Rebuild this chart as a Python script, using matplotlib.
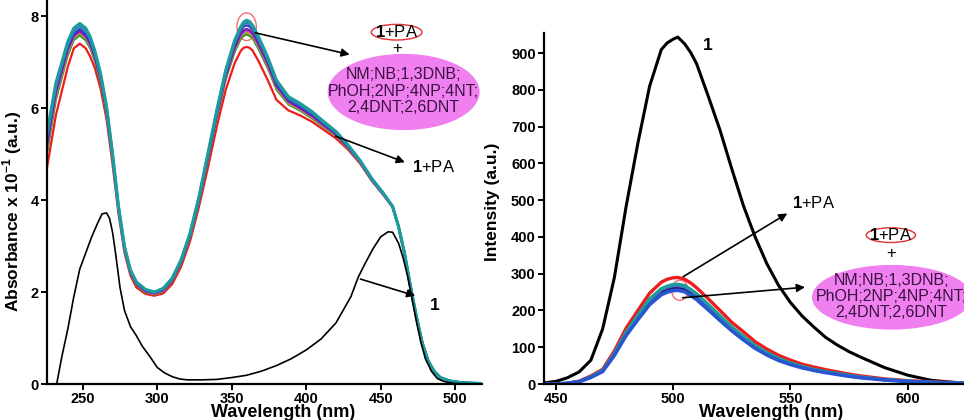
import matplotlib
matplotlib.use("Agg")
import matplotlib.pyplot as plt
from matplotlib.patches import Ellipse

plt.rcParams['font.family'] = ['Liberation Sans', 'DejaVu Sans']
plt.rcParams['mathtext.fontset'] = 'custom'
plt.rcParams['mathtext.rm'] = 'Liberation Sans'
plt.rcParams['mathtext.bf'] = 'Liberation Sans:bold'

## absorbance data (left)
wl_abs = [226, 232, 240, 244, 248, 252, 255, 258, 262, 266, 270, 274,
          278, 282, 286, 292, 298, 304, 310, 316, 322, 328,
          334, 340, 346, 352, 356, 358, 360, 362, 364, 368, 374, 380,
          388, 396, 404, 412, 420, 428, 436, 444, 452, 458,
          462, 466, 470, 474, 478, 482, 486, 490, 496, 504, 518]
tail = [3.42, 2.84, 2.12, 1.46, 0.88, 0.49, 0.27, 0.14, 0.07, 0.03, 0.01]

abs_red = [4.7, 5.85, 6.9, 7.3, 7.4, 7.3, 7.12, 6.88, 6.42, 5.75, 4.78, 3.7,
           2.86, 2.36, 2.1, 1.96, 1.92, 1.97, 2.17, 2.55, 3.1, 3.85,
           4.7, 5.6, 6.4, 6.98, 7.24, 7.31, 7.33, 7.31, 7.25, 7.02, 6.62, 6.18,
           5.95, 5.84, 5.7, 5.52, 5.34, 5.1, 4.8, 4.42, 4.1, 3.84] + tail
abs_green = [5.0, 6.18, 7.15, 7.48, 7.58, 7.47, 7.3, 7.03, 6.54, 5.85, 4.86, 3.76,
             2.91, 2.41, 2.15, 1.99, 1.95, 2.01, 2.23, 2.62, 3.17, 3.94,
             4.85, 5.78, 6.62, 7.22, 7.5, 7.57, 7.6, 7.57, 7.52, 7.28, 6.88, 6.4,
             6.08, 5.94, 5.77, 5.58, 5.4, 5.12, 4.82, 4.43, 4.11, 3.86] + tail
abs_olive = [5.1, 6.25, 7.2, 7.52, 7.62, 7.51, 7.34, 7.07, 6.57, 5.87, 4.88, 3.77,
             2.92, 2.42, 2.16, 2.0, 1.95, 2.02, 2.24, 2.63, 3.18, 3.95,
             4.87, 5.8, 6.65, 7.26, 7.54, 7.61, 7.64, 7.61, 7.56, 7.32, 6.92, 6.43,
             6.1, 5.96, 5.79, 5.6, 5.41, 5.13, 4.82, 4.43, 4.11, 3.86] + tail
abs_magenta = [5.15, 6.3, 7.25, 7.55, 7.65, 7.54, 7.37, 7.1, 6.6, 5.9, 4.9, 3.79,
               2.93, 2.43, 2.17, 2.01, 1.96, 2.03, 2.25, 2.64, 3.2, 3.97,
               4.89, 5.83, 6.68, 7.29, 7.57, 7.65, 7.68, 7.65, 7.6, 7.36, 6.95, 6.46,
               6.13, 5.98, 5.81, 5.61, 5.42, 5.14, 4.83, 4.44, 4.11, 3.86] + tail
abs_purple = [5.2, 6.35, 7.28, 7.58, 7.68, 7.57, 7.4, 7.12, 6.62, 5.92, 4.92, 3.8,
              2.94, 2.44, 2.18, 2.02, 1.97, 2.04, 2.26, 2.65, 3.21, 3.99,
              4.91, 5.85, 6.7, 7.32, 7.6, 7.69, 7.72, 7.69, 7.63, 7.39, 6.98, 6.49,
              6.15, 6.0, 5.83, 5.63, 5.43, 5.15, 4.84, 4.44, 4.12, 3.86] + tail
abs_blue = [5.3, 6.42, 7.33, 7.62, 7.72, 7.61, 7.44, 7.16, 6.66, 5.95, 4.95, 3.82,
            2.96, 2.45, 2.19, 2.03, 1.98, 2.05, 2.27, 2.67, 3.23, 4.01,
            4.94, 5.88, 6.74, 7.38, 7.66, 7.77, 7.8, 7.77, 7.7, 7.45, 7.03, 6.53,
            6.18, 6.03, 5.86, 5.65, 5.45, 5.17, 4.85, 4.45, 4.12, 3.86] + tail
abs_steel = [5.4, 6.5, 7.4, 7.69, 7.79, 7.68, 7.5, 7.22, 6.71, 6.0, 4.99, 3.85,
             2.98, 2.47, 2.21, 2.05, 1.99, 2.07, 2.29, 2.69, 3.26, 4.05,
             4.98, 5.93, 6.79, 7.44, 7.72, 7.83, 7.86, 7.83, 7.75, 7.5, 7.08, 6.58,
             6.22, 6.07, 5.9, 5.68, 5.48, 5.19, 4.86, 4.46, 4.13, 3.86] + tail
abs_teal = [5.45, 6.55, 7.45, 7.74, 7.84, 7.74, 7.55, 7.26, 6.75, 6.03, 5.01, 3.86,
            2.99, 2.48, 2.22, 2.06, 2.0, 2.08, 2.3, 2.7, 3.28, 4.07,
            5.01, 5.96, 6.83, 7.48, 7.77, 7.87, 7.91, 7.88, 7.8, 7.55, 7.12, 6.61,
            6.25, 6.1, 5.92, 5.7, 5.49, 5.2, 4.87, 4.47, 4.14, 3.86] + tail

wl_1 = [232.5, 236, 240, 244, 248, 252, 256, 260, 263, 266, 268, 270, 272, 275, 278,
        282, 286, 290, 295, 300, 305, 310, 315, 320, 330, 340, 350, 360, 370, 380,
        390, 400, 410, 420, 430, 435, 440, 445, 450, 455, 458, 462, 465, 468, 471,
        474, 477, 480, 484, 488, 492, 496, 500, 510, 518]
abs_1 = [0, 0.6, 1.2, 1.9, 2.5, 2.85, 3.2, 3.5, 3.7, 3.72, 3.6, 3.3, 2.85, 2.1, 1.6,
         1.25, 1.05, 0.82, 0.6, 0.36, 0.24, 0.16, 0.11, 0.09, 0.09, 0.1, 0.14, 0.19, 0.28, 0.4,
         0.55, 0.74, 0.98, 1.33, 1.9, 2.33, 2.65, 2.95, 3.2, 3.31, 3.3, 3.06, 2.75, 2.35, 1.85,
         1.35, 0.9, 0.55, 0.28, 0.12, 0.06, 0.03, 0.01, 0.0, 0.0]

## fluorescence data (right)
wl_fl = [445, 450, 455, 460, 465, 470, 475, 480, 485, 490, 495, 497.5, 500, 502, 505, 507.5,
         510, 515, 520, 525, 530, 535, 540, 545, 550, 555, 560, 565, 570, 575, 580, 590,
         600, 610, 624]
fl_1 = [3, 7, 17, 33, 65, 150, 290, 483, 655, 810, 910, 928, 938, 944, 925, 902,
        872, 783, 691, 586, 485, 400, 327, 268, 222, 185, 155, 127, 106, 88, 73, 45,
        24, 10, 2]
fl_red = [0, 0, 2, 8, 22, 40, 90, 152, 200, 247, 277, 285, 289, 290, 285, 275,
          262, 232, 200, 168, 142, 115, 95, 78, 65, 54, 46, 39, 33, 27, 22, 14, 9, 6, 3]
fl_teal = [0, 0, 2, 7, 20, 37, 84, 142, 188, 232, 260, 266.5, 271, 272, 268, 258,
           246, 217, 186, 156, 130, 105, 86, 70, 58, 48, 40, 34, 29, 24, 19, 12, 8, 5, 2]
fl_green = [0, 0, 2, 7, 20, 37, 83, 140, 186, 229, 257, 264, 268, 269, 265, 255,
            243, 214, 184, 154, 128, 104, 85, 69, 57, 47, 40, 34, 28, 23, 19, 12, 8, 5, 2]
fl_steel = [0, 0, 2, 7, 20, 36, 82, 138, 184, 227, 256, 263, 267, 268, 264, 254,
            242, 213, 183, 153, 127, 103, 84, 69, 57, 47, 39, 33, 28, 23, 19, 12, 8, 5, 2]
fl_magenta = [0, 0, 2, 7, 20, 36, 82, 139, 184, 227, 255, 262, 266, 267, 263, 253,
              241, 212, 182, 152, 127, 103, 84, 68, 56, 47, 39, 33, 28, 23, 19, 12, 8, 5, 2]
fl_purple = [0, 0, 2, 7, 19, 36, 81, 137, 182, 224, 252, 259, 263, 264, 260, 250,
             238, 210, 180, 150, 125, 101, 83, 67, 55, 46, 38, 33, 27, 22, 18, 12, 7, 5, 2]
fl_navy = [0, 0, 2, 7, 19, 35, 80, 135, 179, 221, 248, 255, 259, 260, 256, 246,
           234, 206, 177, 148, 123, 99, 81, 66, 54, 45, 38, 32, 27, 22, 18, 11, 7, 5, 2]
fl_blue = [0, 0, 2, 6, 18, 34, 78, 132, 175, 216, 243, 250, 254, 255, 251, 241,
           230, 202, 173, 145, 120, 97, 79, 64, 53, 44, 37, 31, 26, 21, 17, 11, 7, 4, 2]

analytes = 'NM;NB;1,3DNB;\nPhOH;2NP;4NP;4NT;\n2,4DNT;2,6DNT'

fig = plt.figure(figsize=(9.64, 4.2), dpi=100)
ax1 = fig.add_axes([47/964, 36/420, 435/964, 384/420])
ax2 = fig.add_axes([544/964, 36/420, 420/964, 351/420])

def style(ax):
    for s in ['top', 'right']:
        ax.spines[s].set_visible(False)
    for s in ['left', 'bottom']:
        ax.spines[s].set_linewidth(1.6)
    ax.tick_params(direction='out', width=1.4, length=4, labelsize=10.5, pad=2)
    for lab in ax.get_xticklabels() + ax.get_yticklabels():
        lab.set_fontweight('bold')

arrow = dict(arrowstyle='-|>', color='black', lw=1.2, mutation_scale=12)

# left panel
lefts = [(abs_red, '#ee1c1c', 1.6), (abs_green, '#1b8c1b', 1.4), (abs_olive, '#a8a828', 1.4),
         (abs_magenta, '#d040d8', 1.4), (abs_purple, '#7a1a9a', 1.6), (abs_blue, '#2a3fd0', 1.6),
         (abs_steel, '#3d7ab8', 2.0), (abs_teal, '#1c9c9c', 2.2)]
for vals, c, lw in lefts:
    ax1.plot(wl_abs, vals, color=c, lw=lw)
ax1.plot(wl_1, abs_1, color='black', lw=1.2)
ax1.set_xlim(226, 518)
ax1.set_ylim(0, 8.35)
ax1.set_xticks([250, 300, 350, 400, 450, 500])
ax1.set_yticks([0, 2, 4, 6, 8])
style(ax1)
ax1.set_xlabel('Wavelength (nm)', fontsize=13, fontweight='bold')
ax1.xaxis.set_label_coords(0.543, -0.053)
ax1.set_ylabel(r'Absorbance x 10$^{\mathbf{-1}}$ (a.u.)', fontsize=12.5, fontweight='bold')
ax1.yaxis.set_label_coords(-0.054, 0.45)

ax1.add_patch(Ellipse((360, 7.77), 13, 0.6, fill=False, ec='#f07070', lw=1))
ax1.add_patch(Ellipse((460.7, 7.65), 34, 0.34, fill=False, ec='#e03030', lw=1))
ax1.text(460.7, 7.65, r'$\mathbf{1}$+PA', ha='center', va='center', fontsize=12)
ax1.text(460.7, 7.3, '+', ha='center', va='center', fontsize=12)
ax1.add_patch(Ellipse((465.4, 6.35), 102, 1.66, color='#f080f0', ec='none'))
ax1.text(465.4, 6.37, analytes, ha='center', va='center', fontsize=11.5,
         color='#3a1040', linespacing=1.12)
ax1.annotate('', xy=(431, 7.15), xytext=(364, 7.65), arrowprops=arrow)
ax1.annotate('', xy=(468, 4.8), xytext=(418, 5.41), arrowprops=arrow)
ax1.text(471, 4.72, r'$\mathbf{1}$+PA', ha='left', va='center', fontsize=12)
ax1.annotate('', xy=(475, 1.9), xytext=(434.6, 2.3), arrowprops=arrow)
ax1.text(486, 1.7, '1', ha='center', va='center', fontsize=12.5, fontweight='bold')

# right panel
ax2.plot(wl_fl, fl_1, color='black', lw=2.2)
rights = [(fl_red, '#ee1c1c', 2.4), (fl_green, '#1b8c1b', 2.0), (fl_magenta, '#d040d8', 2.0),
          (fl_purple, '#7a1a9a', 2.0), (fl_navy, '#1a1a80', 2.0), (fl_steel, '#3d7ab8', 2.0),
          (fl_teal, '#1c9c9c', 2.2), (fl_blue, '#2a55d0', 2.6)]
for vals, c, lw in rights:
    ax2.plot(wl_fl, vals, color=c, lw=lw)
ax2.set_xlim(445, 624)
ax2.set_ylim(0, 955)
ax2.set_xticks([450, 500, 550, 600])
ax2.set_yticks(range(0, 901, 100))
style(ax2)
ax2.set_xlabel('Wavelength (nm)', fontsize=13, fontweight='bold')
ax2.xaxis.set_label_coords(0.54, -0.058)
ax2.set_ylabel('Intensity (a.u.)', fontsize=12.5, fontweight='bold')
ax2.yaxis.set_label_coords(-0.105, 0.52)

ax2.text(514.8, 921, '1', ha='center', va='center', fontsize=12.5, fontweight='bold')
ax2.annotate('', xy=(549.7, 468), xytext=(503.3, 288), arrowprops=arrow)
ax2.text(550.6, 492, r'$\mathbf{1}$+PA', ha='left', va='center', fontsize=12)
ax2.add_patch(Ellipse((502.9, 255), 7, 55, fill=False, ec='#f07070', lw=1))
ax2.annotate('', xy=(557.4, 264), xytext=(502.9, 234), arrowprops=arrow)
ax2.add_patch(Ellipse((592.8, 405), 21, 40, fill=False, ec='#e03030', lw=1, clip_on=False))
ax2.text(592.8, 405, r'$\mathbf{1}$+PA', ha='center', va='center', fontsize=12)
ax2.text(592.8, 356, '+', ha='center', va='center', fontsize=12)
ax2.add_patch(Ellipse((593.2, 236), 68, 176, color='#f080f0', ec='none', clip_on=False))
ax2.text(593.2, 238, analytes, ha='center', va='center', fontsize=11.5,
         color='#3a1040', linespacing=1.12, clip_on=False)

fig.savefig('out.png', dpi=100)
